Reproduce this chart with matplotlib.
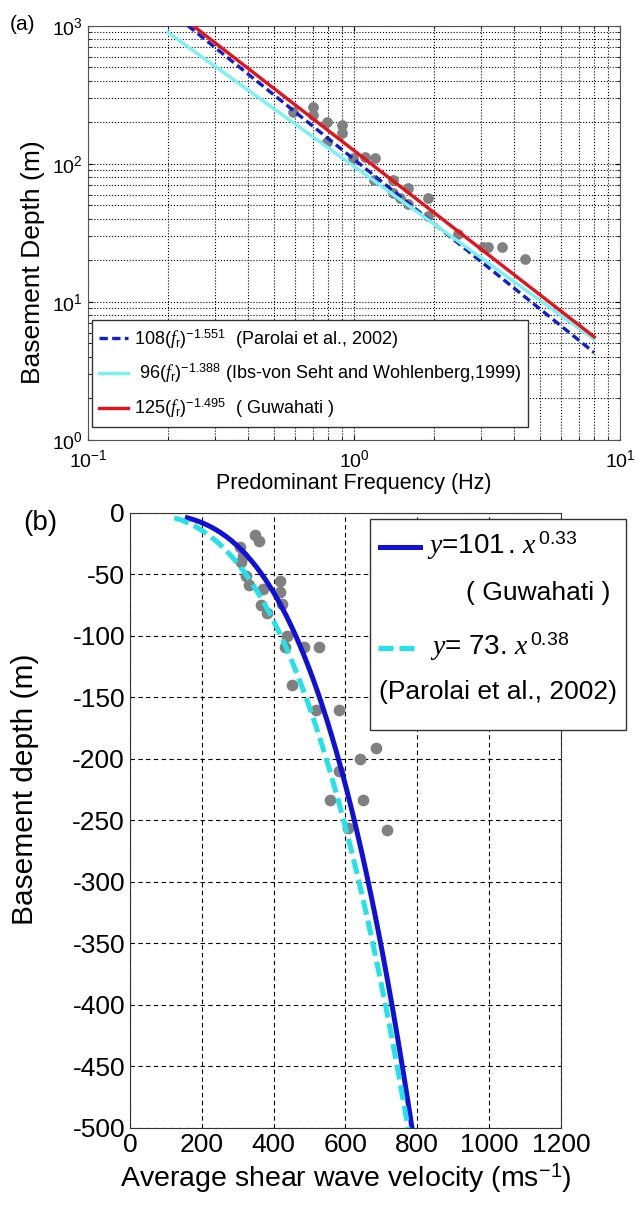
import matplotlib
matplotlib.use('Agg')
import matplotlib.pyplot as plt
import numpy as np

plt.rcParams['font.family'] = ['Liberation Sans', 'DejaVu Sans']
plt.rcParams['mathtext.fontset'] = 'custom'
plt.rcParams['mathtext.rm'] = 'Liberation Sans'
plt.rcParams['mathtext.it'] = 'Liberation Serif:italic'
plt.rcParams['mathtext.bf'] = 'Liberation Sans:bold'
plt.rcParams['axes.unicode_minus'] = False

# (a) observed predominant frequency vs basement depth
freq_obs = [0.59, 0.70, 0.70, 0.79, 0.90, 0.90, 0.79, 0.99, 1.10, 1.20, 1.19, 1.40,
            1.40, 1.49, 1.60, 1.60, 1.90, 1.90, 2.46, 3.05, 3.20, 3.60, 4.40]
depth_obs = [238, 259, 226, 202, 193, 167, 145, 110, 113, 110, 77, 77,
             62, 57, 67, 51, 57, 42, 31, 25, 25, 25, 20.5]

# power-law relations  H = a * f^b
rel_a = [108, 96, 125]
rel_b = [-1.551, -1.388, -1.495]
rel_labels = [r'108$(\mathit{f}_{\rm r})^{-1.551}$  (Parolai et al., 2002)',
              r' 96$(\mathit{f}_{\rm r})^{-1.388}$ (Ibs-von Seht and Wohlenberg,1999)',
              r'125$(\mathit{f}_{\rm r})^{-1.495}$  ( Guwahati )']
freq_range = [0.2, 8.0]

# (b) average shear wave velocity vs basement depth
vs_obs = [347, 358, 305, 315, 308, 322, 331, 370, 419, 419, 423, 364, 382,
          438, 433, 484, 526, 452, 517, 581, 685, 640, 581, 556, 648, 608, 717]
dep_obs = [-18, -23, -28, -35, -40, -51, -59, -62, -55, -64, -74, -75, -81,
           -100, -109, -109, -109, -140, -160, -160, -191, -200, -210, -233, -233, -256, -258]

# Vs = a * H^b
vs_a = [101, 73]
vs_b = [0.33, 0.38]
vs_eq = [r'$y$=101$\,.\,x^{\,0.33}$', r'$y$= 73$.\,x^{\,0.38}$']
vs_src = ['( Guwahati )', '(Parolai et al., 2002)']
depth_range = [4, 500]

fig = plt.figure(figsize=(6.35, 12.06), dpi=100)

# ---------------- panel (a)
ax1 = fig.add_axes([0.1386, 0.6352, 0.8378, 0.3433])
ax1.scatter(freq_obs, depth_obs, s=45, color='#808080', zorder=2)
f = np.geomspace(freq_range[0], freq_range[1], 200)
styles = [dict(color='#0f1fd0', ls=(0, (2.5, 1.3))),
          dict(color='#78f2f2', ls='-'),
          dict(color='#e8101a', ls='-')]
for a, b, lab, st in zip(rel_a, rel_b, rel_labels, styles):
    ax1.plot(f, a * f ** b, lw=2.4, label=lab, zorder=3, **st)
ax1.set_xscale('log')
ax1.set_yscale('log')
ax1.set_xlim(0.1, 10)
ax1.set_ylim(1, 1000)
ax1.grid(True, which='both', ls=':', color='k', lw=0.8)
ax1.tick_params(which='both', direction='in', top=True, right=True, labelsize=14)
ax1.tick_params(axis='x', pad=7)
ax1.set_xlabel('Predominant Frequency (Hz)', fontsize=15.5)
ax1.set_ylabel('Basement Depth (m)', fontsize=19)
ax1.yaxis.set_label_coords(-0.080, 0.43)
ax1.xaxis.labelpad = 1
for sp in ax1.spines.values():
    sp.set_color('#555555')
leg1 = ax1.legend(loc='lower left', bbox_to_anchor=(0.0075, 0.031), borderaxespad=0,
                  fontsize=13, fancybox=False, framealpha=1, edgecolor='#333333',
                  handlelength=1.6, handletextpad=0.3, labelspacing=0.62,
                  borderpad=0.4)
leg1.get_frame().set_linewidth(1.0)
fig.text(0.036, 0.980, '(a)', fontsize=15, ha='center', va='center')

# ---------------- panel (b)
ax2 = fig.add_axes([0.2047, 0.0647, 0.6787, 0.51])
ax2.scatter(vs_obs, dep_obs, s=55, color='#808080', zorder=2)
H = np.linspace(depth_range[0], depth_range[1], 300)
colors2 = ['#1010d8', '#22e2ea']
ls2 = ['-', (0, (3, 1.2))]
for a, b, c, ls in zip(vs_a, vs_b, colors2, ls2):
    ax2.plot(a * H ** b, -H, lw=3.6, color=c, ls=ls, zorder=3)
ax2.set_xlim(0, 1200)
ax2.set_ylim(-500, 0)
ax2.set_xticks(np.arange(0, 1201, 200))
ax2.set_yticks(np.arange(-500, 1, 50))
ax2.grid(True, ls=(0, (4, 3)), color='k', lw=0.8)
ax2.tick_params(direction='in', labelsize=19, length=0)
ax2.set_xlabel('Average shear wave velocity (ms$^{-1}$)', fontsize=20.5)
ax2.set_ylabel('Basement depth (m)', fontsize=21.5)
ax2.yaxis.set_label_coords(-0.212, 0.55)
ax2.xaxis.labelpad = 3
for sp in ax2.spines.values():
    sp.set_color('#333333')

# legend box for panel (b), laid out like the original
tr = ax2.transAxes
ax2.add_patch(plt.Rectangle((0.557, 0.647), 0.594, 0.343, transform=tr, fc='white',
                            ec='#333333', lw=1.0, clip_on=False, zorder=5))
ax2.plot([0.580, 0.672], [0.945, 0.945], transform=tr, color=colors2[0], lw=3.6,
         ls=ls2[0], clip_on=False, zorder=6)
ax2.plot([0.575, 0.668], [0.780, 0.780], transform=tr, color=colors2[1], lw=3.6,
         ls=ls2[1], clip_on=False, zorder=6)
ax2.text(0.690, 0.947, vs_eq[0], transform=tr, fontsize=20, ha='left', va='center', zorder=7)
ax2.text(1.114, 0.870, vs_src[0], transform=tr, fontsize=19, ha='right', va='center', zorder=7)
ax2.text(0.696, 0.782, vs_eq[1], transform=tr, fontsize=20, ha='left', va='center', zorder=7)
ax2.text(0.854, 0.709, vs_src[1], transform=tr, fontsize=19, ha='center', va='center', zorder=7)
fig.text(0.063, 0.566, '(b)', fontsize=20, ha='center', va='center')

fig.savefig('out.png', dpi=100)
